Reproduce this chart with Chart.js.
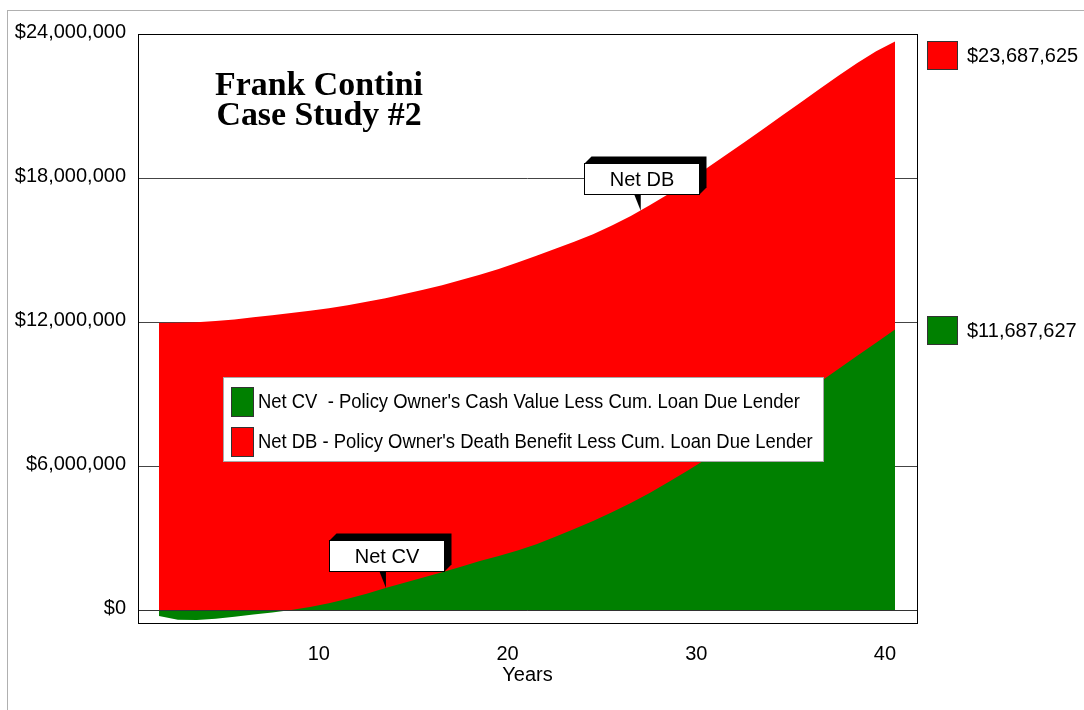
<!DOCTYPE html>
<html>
<head>
<meta charset="utf-8">
<script src="https://cdn.jsdelivr.net/npm/chart.js@4.4.1/dist/chart.umd.min.js"></script>
<style>
  html, body { margin: 0; padding: 0; background: #fff; }
  #wrap { position: relative; width: 1084px; height: 710px; }
  #frame { position: absolute; left: 7px; top: 10px; right: 0; bottom: 0; border-left: 1px solid #b0b0b0; border-top: 1px solid #b0b0b0; pointer-events: none; }
</style>
</head>
<body>
<div id="wrap">
  <canvas id="c" width="1084" height="710"></canvas>
  <div id="frame"></div>
</div>
<script>
const years = [1,2,3,4,5,6,7,8,9,10,11,12,13,14,15,16,17,18,19,20,21,22,23,24,25,26,27,28,29,30,31,32,33,34,35,36,37,38,39,40];
const netCV = [-250000,-400000,-410000,-360000,-280000,-190000,-100000,0,130000,280000,
  470000,680000,920000,1140000,1360000,1570000,1800000,2040000,2250000,2480000,
  2740000,3050000,3380000,3710000,4070000,4460000,4880000,5330000,5800000,6290000,
  6800000,7320000,7850000,8390000,8940000,9490000,10040000,10590000,11140000,11687627];
const netDB = [11960000,11970000,11990000,12040000,12110000,12200000,12280000,12380000,12470000,12570000,
  12700000,12840000,12990000,13170000,13340000,13530000,13750000,13970000,14210000,14480000,
  14760000,15050000,15340000,15660000,16020000,16420000,16860000,17330000,17850000,18400000,
  18940000,19480000,20030000,20590000,21150000,21710000,22260000,22790000,23280000,23687625];
const yTickValues = [0, 6000000, 12000000, 18000000, 24000000];
const xTickValues = [10, 20, 30, 40];
const seriesNames = ['Net CV', 'Net DB'];
const legendTexts = [
  "Net CV  - Policy Owner's Cash Value Less Cum. Loan Due Lender",
  "Net DB - Policy Owner's Death Benefit Less Cum. Loan Due Lender"
];
const titleLines = ['Frank Contini', 'Case Study #2'];
const xTitle = 'Years';
const calloutYears = [13, 26.5];

const GREEN = '#008000', RED = '#ff0000';
const SANS = '"Liberation Sans", Arial, sans-serif';

function money(v) { return '$' + Math.round(v).toLocaleString('en-US'); }
function interp(arr, yr) {
  const i = Math.floor(yr) - 1, f = yr - Math.floor(yr);
  if (f === 0 || i + 1 >= arr.length) return arr[i];
  return arr[i] + (arr[i + 1] - arr[i]) * f;
}

function callout(ctx, text, tx, ty) {
  const w = 115, h = 31, dx = 7, dy = -7;
  const x = Math.round(tx - 56) + 0.5, y = Math.round(ty - 48) + 0.5;
  ctx.save();
  ctx.fillStyle = '#000';
  ctx.beginPath();
  ctx.moveTo(x, y); ctx.lineTo(x + dx, y + dy); ctx.lineTo(x + w + dx, y + dy);
  ctx.lineTo(x + w + dx, y + h + dy); ctx.lineTo(x + w, y + h); ctx.lineTo(x, y + h);
  ctx.closePath(); ctx.fill();
  ctx.beginPath();
  ctx.moveTo(tx - 6, y + h); ctx.lineTo(tx + 0.5, y + h); ctx.lineTo(tx + 0.5, ty); ctx.closePath(); ctx.fill();
  ctx.fillStyle = '#fff'; ctx.strokeStyle = '#000'; ctx.lineWidth = 1;
  ctx.fillRect(x, y, w, h); ctx.strokeRect(x, y, w, h);
  ctx.fillStyle = '#000'; ctx.font = '20px ' + SANS;
  ctx.textAlign = 'center'; ctx.textBaseline = 'middle';
  ctx.fillText(text, x + w / 2, y + h / 2 + 1);
  ctx.restore();
}

const decor = {
  id: 'decor',
  afterDatasetsDraw(chart) {
    const ctx = chart.ctx, a = chart.chartArea;
    const xs = chart.scales.x, ys = chart.scales.y;
    ctx.save();
    const y0 = Math.round(ys.getPixelForValue(0)) + 0.5;
    ctx.strokeStyle = '#333'; ctx.lineWidth = 1;
    ctx.beginPath(); ctx.moveTo(a.left, y0); ctx.lineTo(a.right, y0); ctx.stroke();
    ctx.strokeStyle = '#000';
    ctx.strokeRect(Math.round(a.left) + 0.5, Math.round(a.top) + 0.5, Math.round(a.right - a.left), Math.round(a.bottom - a.top));

    // title
    ctx.fillStyle = '#000';
    ctx.font = 'bold 33px "Liberation Serif", "Times New Roman", serif';
    ctx.textAlign = 'center'; ctx.textBaseline = 'alphabetic';
    const tsx = 208 / ctx.measureText(titleLines[0]).width;
    [95, 125].forEach((by, i) => {
      ctx.save(); ctx.translate(319, by); ctx.scale(tsx, 1);
      ctx.fillText(titleLines[i], 0, 0); ctx.restore();
    });

    // inner legend
    const lx = 223.5, ly = 377.5, lw = 600, lh = 84;
    ctx.fillStyle = '#fff'; ctx.fillRect(lx, ly, lw, lh);
    ctx.strokeStyle = '#a8a8a8'; ctx.strokeRect(lx, ly, lw, lh);
    ctx.font = '21px "Liberation Sans Narrow", ' + SANS;
    const lsx = 542 / ctx.measureText(legendTexts[0]).width;
    ctx.textAlign = 'left'; ctx.textBaseline = 'middle';
    chart.data.datasets.forEach((ds, i) => {
      const sy = 387.5 + i * 40;
      ctx.fillStyle = ds.backgroundColor; ctx.fillRect(231.5, sy, 22, 29);
      ctx.strokeStyle = '#333'; ctx.strokeRect(231.5, sy, 22, 29);
      ctx.fillStyle = '#000';
      ctx.save(); ctx.translate(258, sy + 15); ctx.scale(lsx, 1);
      ctx.fillText(legendTexts[i], 0, 0); ctx.restore();
    });

    calloutYears.forEach((yr, i) => {
      const arr = chart.data.datasets[i].data.map(p => p.y);
      callout(ctx, seriesNames[i], xs.getPixelForValue(yr), ys.getPixelForValue(interp(arr, yr)));
    });

    ctx.font = '20px ' + SANS; ctx.textAlign = 'left'; ctx.textBaseline = 'middle';
    chart.data.datasets.forEach((ds) => {
      const last = ds.data[ds.data.length - 1].y;
      const cy = Math.max(ys.getPixelForValue(last), 54.5);
      const top = Math.round(cy - 14) + 0.5;
      ctx.fillStyle = ds.backgroundColor; ctx.fillRect(927.5, top, 30, 28);
      ctx.strokeStyle = '#333'; ctx.strokeRect(927.5, top, 30, 28);
      ctx.fillStyle = '#000'; ctx.fillText(money(last), 967, top + 15);
    });
    ctx.restore();
  }
};

new Chart(document.getElementById('c'), {
  type: 'line',
  data: {
    datasets: [
      { label: seriesNames[0], data: years.map((x, i) => ({ x, y: netCV[i] })),
        backgroundColor: GREEN, borderColor: GREEN, borderWidth: 0, fill: 'origin', pointRadius: 0, tension: 0 },
      { label: seriesNames[1], data: years.map((x, i) => ({ x, y: netDB[i] })),
        backgroundColor: RED, borderColor: RED, borderWidth: 0, fill: 'origin', pointRadius: 0, tension: 0 }
    ]
  },
  options: {
    responsive: false, animation: false, devicePixelRatio: 1,
    layout: { padding: { top: 34, right: 167, bottom: 0, left: 0 } },
    plugins: { legend: { display: false }, tooltip: { enabled: false } },
    scales: {
      x: {
        type: 'linear', min: -0.113, max: 41.166,
        afterBuildTicks(s) { s.ticks = xTickValues.map(v => ({ value: v })); },
        afterFit(s) { s.height = 87; },
        grid: { display: false, drawTicks: false },
        border: { display: false },
        ticks: { color: '#000', font: { size: 20, family: SANS }, padding: 19, maxRotation: 0, labelOffset: -10 },
        title: { display: true, text: xTitle, color: '#000', font: { size: 20, family: SANS }, padding: { top: 0, bottom: 23 } }
      },
      y: {
        min: -540000, max: 24000000,
        afterBuildTicks(s) { s.ticks = yTickValues.map(v => ({ value: v })); },
        afterFit(s) { s.width = 138; },
        grid: { color: '#444', lineWidth: 1, drawTicks: false },
        border: { display: false },
        ticks: { color: '#000', font: { size: 20, family: SANS }, padding: 12, labelOffset: -2,
                 callback: v => money(v) }
      }
    }
  },
  plugins: [decor]
});
</script>
</body>
</html>
